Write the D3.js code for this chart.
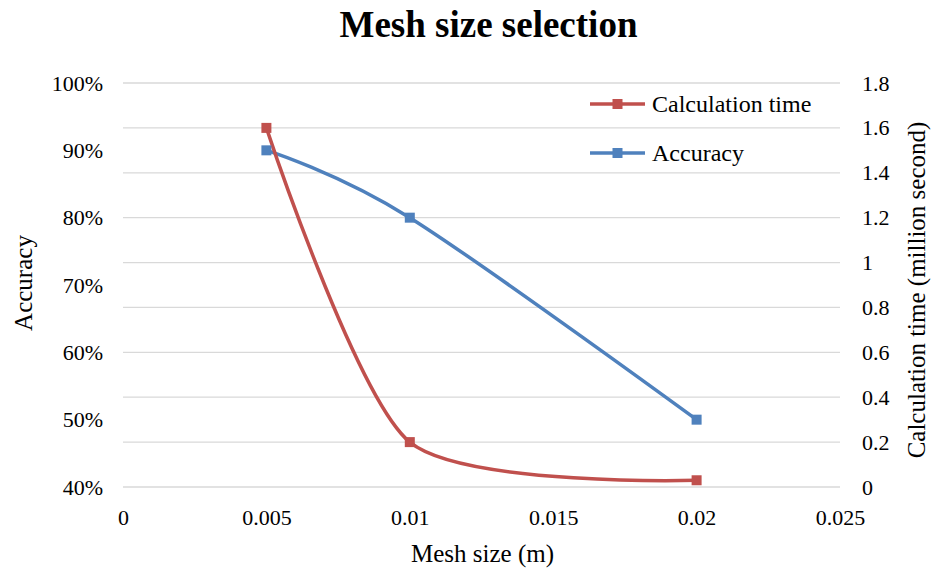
<!DOCTYPE html>
<html>
<head>
<meta charset="utf-8">
<script src="https://cdn.jsdelivr.net/npm/d3@7"></script>
<style>
  body { margin: 0; background: #fff; }
</style>
</head>
<body>
<div id="chart"></div>
<script>
var meshSize = [0.005, 0.01, 0.02];
var accuracy = [0.90, 0.80, 0.50];
var calcTime = [1.6, 0.2, 0.03];
var xTicks = [0, 0.005, 0.01, 0.015, 0.02, 0.025];
var accTicks = [0.4, 0.5, 0.6, 0.7, 0.8, 0.9, 1.0];
var timeTicks = [0, 0.2, 0.4, 0.6, 0.8, 1, 1.2, 1.4, 1.6, 1.8];

var serif = "'Liberation Serif', 'Times New Roman', serif";
var width = 933, height = 569;
var margin = {top: 83, right: 93, bottom: 82, left: 123},
    plotW = width - margin.left - margin.right,
    plotH = height - margin.top - margin.bottom;

var svg = d3.select("#chart")
  .append("svg")
    .attr("width", width)
    .attr("height", height)
    .style("font-family", serif);

var g = svg.append("g")
    .attr("transform", "translate(" + margin.left + "," + margin.top + ")");

var x = d3.scaleLinear().domain([0, 0.025]).range([0, plotW]);
var yL = d3.scaleLinear().domain([0.4, 1.0]).range([plotH, 0]);
var yR = d3.scaleLinear().domain([0, 1.8]).range([plotH, 0]);

// gridlines follow the right axis
g.append("g")
  .selectAll("line")
  .data(timeTicks)
  .enter()
  .append("line")
    .attr("x1", 0)
    .attr("x2", plotW)
    .attr("y1", function(d) { return yR(d); })
    .attr("y2", function(d) { return yR(d); })
    .attr("stroke", "#d9d9d9")
    .attr("stroke-width", 1.3);

function styleAxis(sel) {
  sel.attr("font-family", null).attr("font-size", null);
  sel.select(".domain").remove();
  sel.selectAll("text")
    .style("font-family", serif)
    .style("font-size", "22px")
    .attr("fill", "#000");
}

g.append("g")
  .attr("transform", "translate(0," + plotH + ")")
  .call(d3.axisBottom(x).tickValues(xTicks).tickSize(0).tickPadding(22)
    .tickFormat(function(d) { return d3.format("~g")(d); }))
  .call(styleAxis);

g.append("g")
  .call(d3.axisLeft(yL).tickValues(accTicks).tickSize(0).tickPadding(20)
    .tickFormat(d3.format(".0%")))
  .call(styleAxis);

g.append("g")
  .attr("transform", "translate(" + plotW + ",0)")
  .call(d3.axisRight(yR).tickValues(timeTicks).tickSize(0).tickPadding(22)
    .tickFormat(function(d) { return d3.format("~g")(d); }))
  .call(styleAxis);

var red = "#C0504D", blue = "#4F81BD";

var accData = meshSize.map(function(m, i) { return [m, accuracy[i]]; });
var timeData = meshSize.map(function(m, i) { return [m, calcTime[i]]; });

var accLine = d3.line()
  .x(function(d) { return x(d[0]); })
  .y(function(d) { return yL(d[1]); })
  .curve(d3.curveCardinal.tension(0));
var timeLine = d3.line()
  .x(function(d) { return x(d[0]); })
  .y(function(d) { return yR(d[1]); })
  .curve(d3.curveCardinal.tension(0.25));

g.append("path")
  .datum(accData)
  .attr("d", accLine)
  .attr("fill", "none")
  .attr("stroke", blue)
  .attr("stroke-width", 3.5);

g.append("path")
  .datum(timeData)
  .attr("d", timeLine)
  .attr("fill", "none")
  .attr("stroke", red)
  .attr("stroke-width", 3.5);

var ms = 10;
g.selectAll(".accPt")
  .data(accData)
  .enter()
  .append("rect")
    .attr("x", function(d) { return x(d[0]) - ms / 2; })
    .attr("y", function(d) { return yL(d[1]) - ms / 2; })
    .attr("width", ms)
    .attr("height", ms)
    .attr("fill", blue);

g.selectAll(".timePt")
  .data(timeData)
  .enter()
  .append("rect")
    .attr("x", function(d) { return x(d[0]) - ms / 2; })
    .attr("y", function(d) { return yR(d[1]) - ms / 2; })
    .attr("width", ms)
    .attr("height", ms)
    .attr("fill", red);

// legend
var legend = [{name: "Calculation time", color: red, y: 104},
              {name: "Accuracy", color: blue, y: 153}];
var lg = svg.append("g").selectAll("g")
  .data(legend)
  .enter()
  .append("g")
    .attr("transform", function(d) { return "translate(590," + d.y + ")"; });
lg.append("line")
  .attr("x1", 0).attr("x2", 55)
  .attr("stroke", function(d) { return d.color; })
  .attr("stroke-width", 3.5);
lg.append("rect")
  .attr("x", 27.5 - ms / 2).attr("y", -ms / 2)
  .attr("width", ms).attr("height", ms)
  .attr("fill", function(d) { return d.color; });
lg.append("text")
  .attr("x", 62)
  .attr("dy", "0.35em")
  .style("font-size", "24px")
  .text(function(d) { return d.name; });

// titles
svg.append("text")
  .attr("x", margin.left + plotW / 2 + 7)
  .attr("y", 37)
  .style("text-anchor", "middle")
  .style("font-size", "37px")
  .style("font-weight", "bold")
  .text("Mesh size selection");

svg.append("text")
  .attr("x", margin.left + plotW / 2 + 1)
  .attr("y", 562)
  .style("text-anchor", "middle")
  .style("font-size", "25px")
  .text("Mesh size (m)");

svg.append("text")
  .attr("transform", "translate(32,283)rotate(-90)")
  .style("text-anchor", "middle")
  .style("font-size", "25px")
  .text("Accuracy");

svg.append("text")
  .attr("transform", "translate(925,290)rotate(-90)")
  .style("text-anchor", "middle")
  .style("font-size", "25px")
  .text("Calculation time (million second)");
</script>
</body>
</html>
